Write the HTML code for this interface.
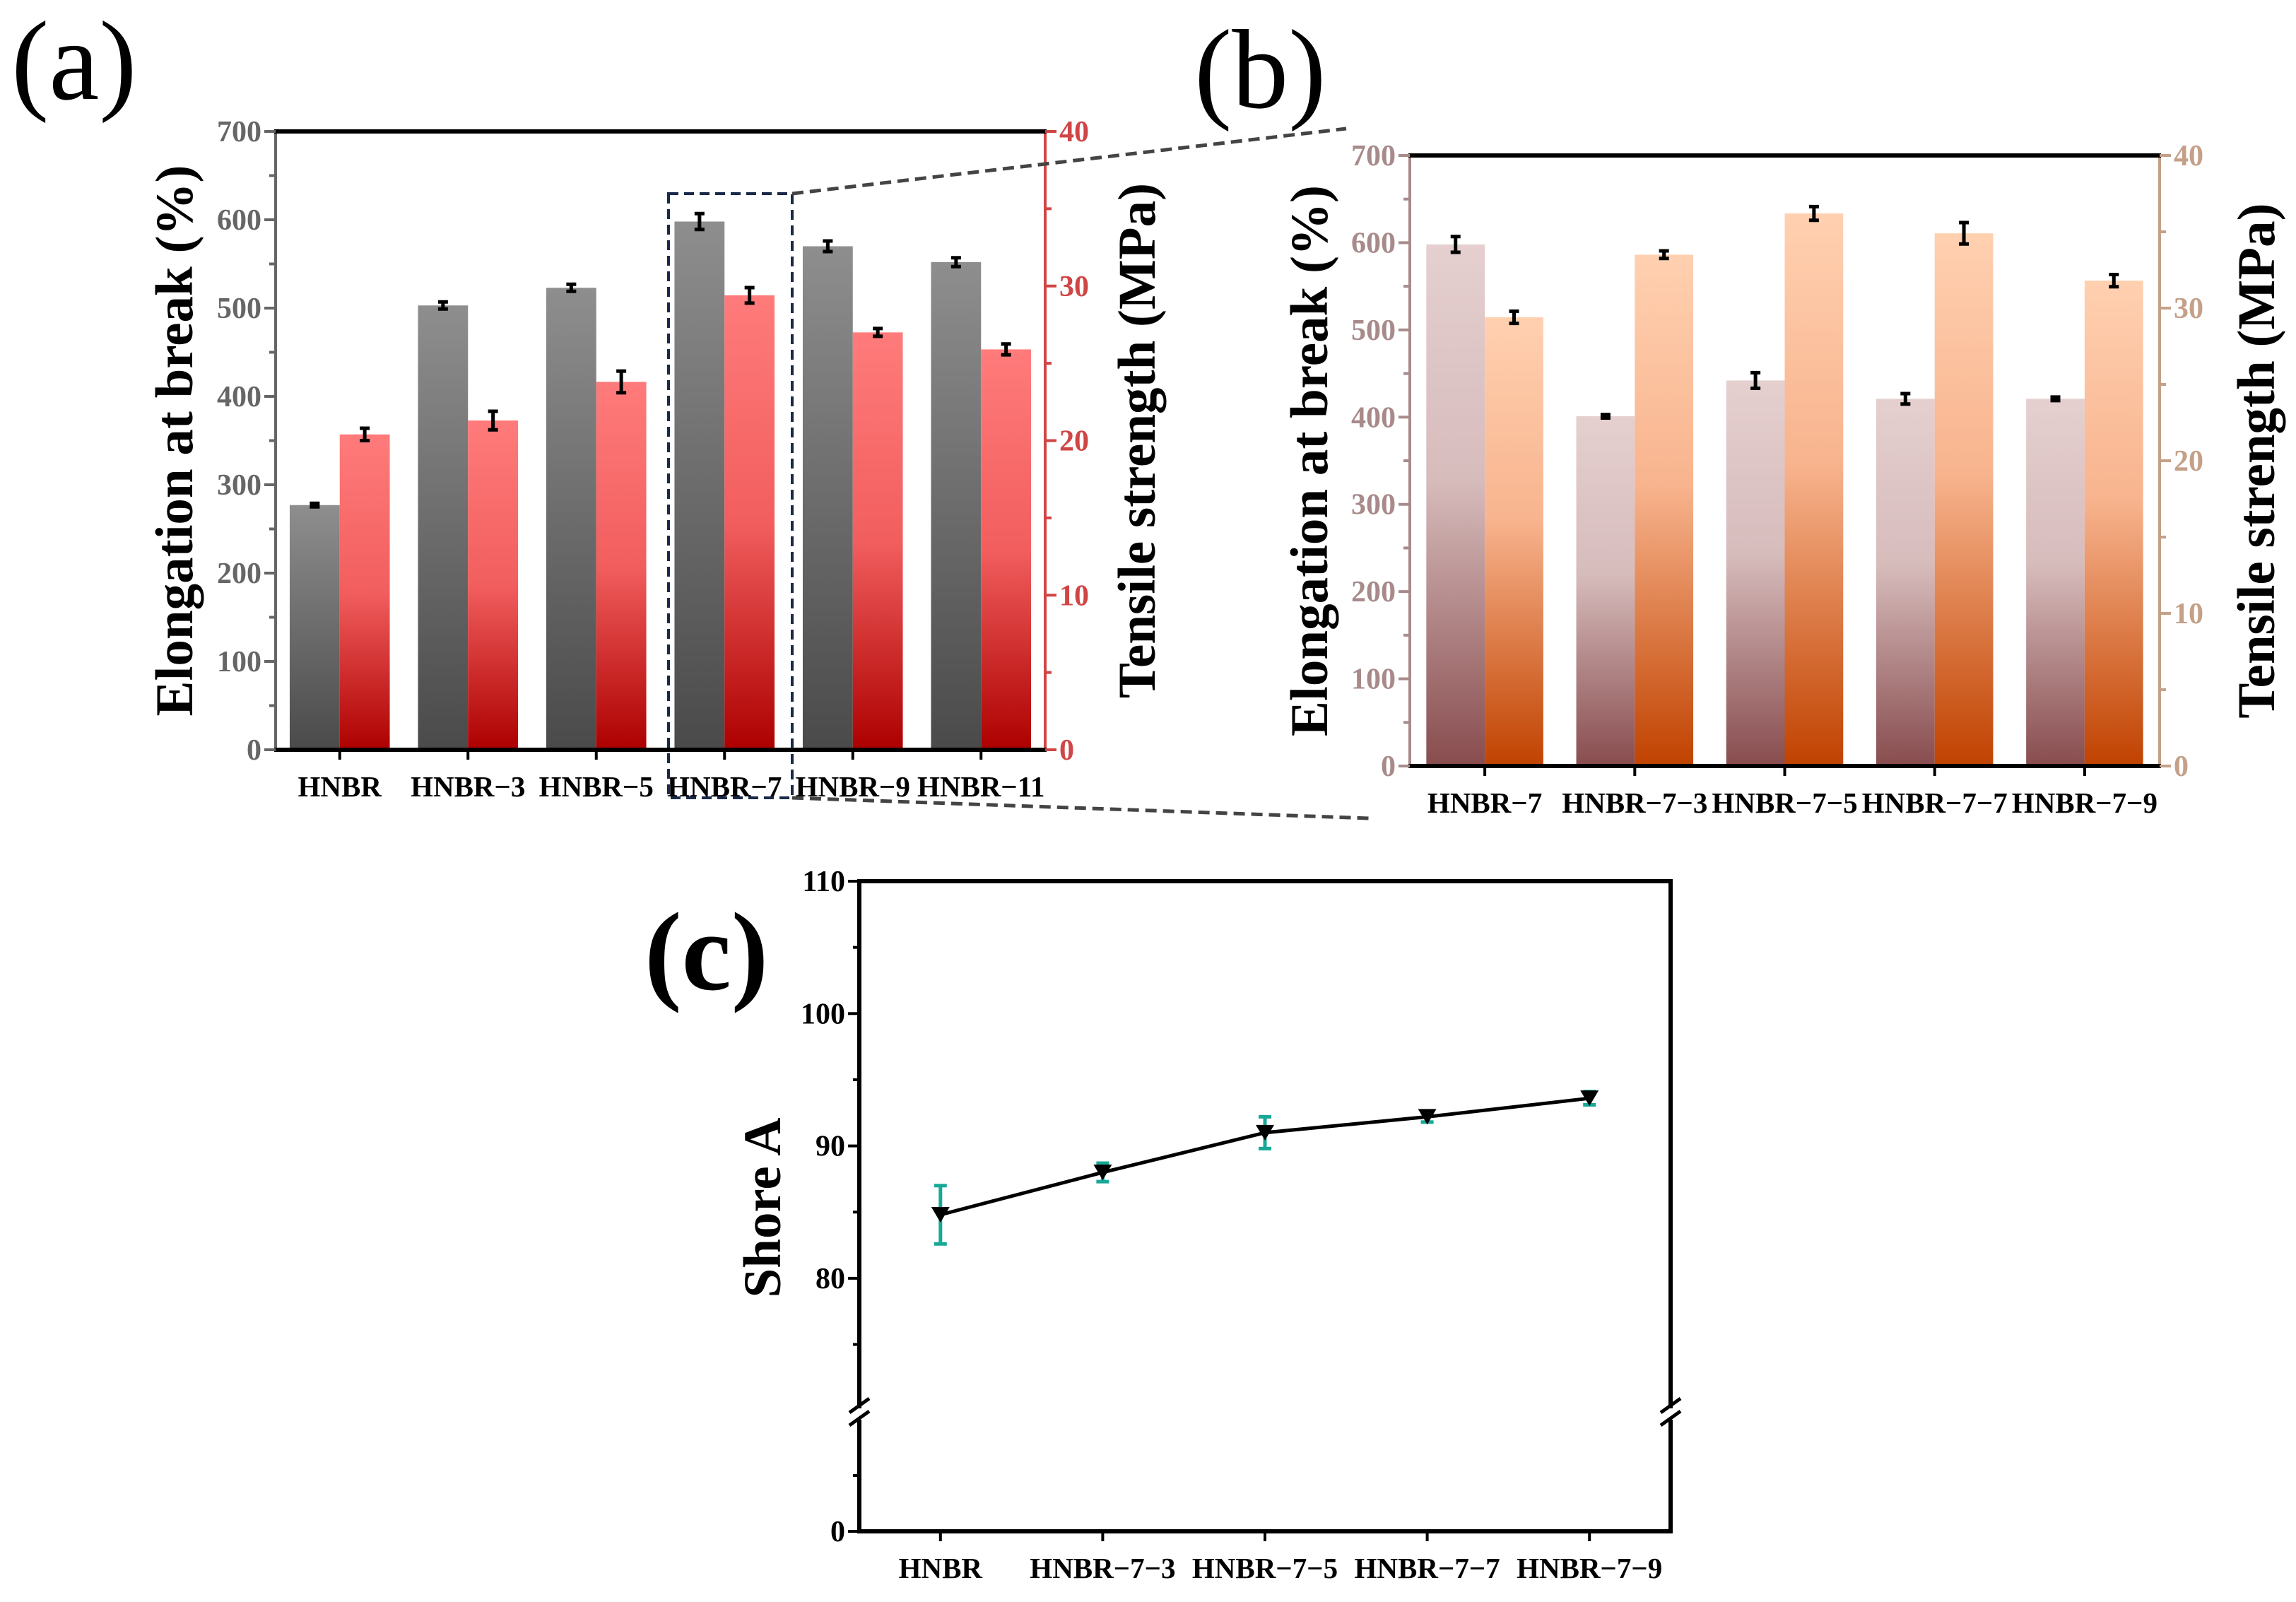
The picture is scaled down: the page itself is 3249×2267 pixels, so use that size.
<!DOCTYPE html>
<html><head><meta charset="utf-8"><style>
html,body{margin:0;padding:0;background:#fff}
svg{display:block;font-family:"Liberation Serif",serif;font-weight:bold}
</style></head><body>
<svg id="s" width="3249" height="2267" viewBox="0 0 3249 2267" xmlns="http://www.w3.org/2000/svg">
<defs>
<linearGradient id="gGray" x1="0" y1="0" x2="0" y2="1"><stop offset="0" stop-color="#8e8e8e"/><stop offset="1" stop-color="#4a4a4a"/></linearGradient>
<linearGradient id="gRed" x1="0" y1="0" x2="0" y2="1"><stop offset="0" stop-color="#ff7b7b"/><stop offset="0.5" stop-color="#f25e5e"/><stop offset="1" stop-color="#ad0000"/></linearGradient>
<linearGradient id="gMauve" x1="0" y1="0" x2="0" y2="1"><stop offset="0" stop-color="#e5cfcf"/><stop offset="0.45" stop-color="#d7bcbc"/><stop offset="1" stop-color="#884c4e"/></linearGradient>
<linearGradient id="gOrange" x1="0" y1="0" x2="0" y2="1"><stop offset="0" stop-color="#ffd0b0"/><stop offset="0.45" stop-color="#f8b48e"/><stop offset="1" stop-color="#c04200"/></linearGradient>
</defs>
<text x="16" y="140" font-size="160" font-weight="normal" fill="#000">(a)</text>
<text x="1690" y="152" font-size="160" font-weight="normal" fill="#000">(b)</text>
<text x="912" y="1400" font-size="158" fill="#000">(c)</text>
<g id="ga"></g>
<g id="gb"></g>
<g id="gc"></g>
<g id="gz"></g>
</svg>
<script>
// Panel (a) data
const catsA = ["HNBR","HNBR\u22123","HNBR\u22125","HNBR\u22127","HNBR\u22129","HNBR\u221211"];
const elongA = [277, 503, 523, 598, 570, 552];
const elongErrA = [2, 4, 4, 9, 6, 5];
const tensA = [20.4, 21.3, 23.8, 29.4, 27.0, 25.9];
const tensErrA = [0.4, 0.6, 0.7, 0.5, 0.25, 0.35];
// Panel (b) data
const catsB = ["HNBR\u22127","HNBR\u22127\u22123","HNBR\u22127\u22125","HNBR\u22127\u22127","HNBR\u22127\u22129"];
const elongB = [598, 401, 442, 421, 421];
const elongErrB = [9, 2, 9, 6, 2];
const tensB = [29.4, 33.5, 36.2, 34.9, 31.8];
const tensErrB = [0.4, 0.25, 0.45, 0.7, 0.4];
// Panel (c) data
const catsC = ["HNBR","HNBR\u22127\u22123","HNBR\u22127\u22125","HNBR\u22127\u22127","HNBR\u22127\u22129"];
const shoreC = [84.8, 88.0, 91.0, 92.2, 93.6];
const shoreErrC = [2.2, 0.7, 1.2, 0.4, 0.5];
const leftTicks = [0,100,200,300,400,500,600,700];
const rightTicks = [0,10,20,30,40];
const shoreTicksUpper = [80,90,100,110];

const NS="http://www.w3.org/2000/svg";
const TICKFS=42, CATFS=41, TTLFS=75;
function mk(p,tag,at,txt){const e=document.createElementNS(NS,tag);for(const k in at)e.setAttribute(k,at[k]);if(txt!==undefined)e.textContent=txt;p.appendChild(e);return e;}

function barPanel(g,o){
  const {L,R,T,B,cats,e,ee,t,te,fillL,fillR,colL,colR,ttlLx,ttlRx}=o;
  const yL=v=>B-(v/700)*(B-T), yR=v=>B-(v/40)*(B-T);
  const band=(R-L)/cats.length, bw=band*0.39;
  cats.forEach((c,i)=>{
    const cx=L+band*(i+0.5);
    let r=mk(g,'rect',{x:cx-bw,y:yL(e[i]),width:bw,height:B-yL(e[i]),fill:fillL});
    
    
    r=mk(g,'rect',{x:cx,y:yR(t[i]),width:bw,height:B-yR(t[i]),fill:fillR});
    
    
    [[cx-bw/2,yL(e[i]+ee[i]),yL(e[i]-ee[i])],[cx+bw/2,yR(t[i]+te[i]),yR(t[i]-te[i])]].forEach(([x,y1,y2])=>{
      const eb=mk(g,'path',{d:`M${x},${y1}V${y2}M${x-7},${y1}h14M${x-7},${y2}h14`,stroke:'#000','stroke-width':5,fill:'none'});
      
      
    });
    mk(g,'line',{x1:cx,y1:B,x2:cx,y2:B+14,stroke:'#000','stroke-width':4});
    const tl=mk(g,'text',{x:cx,y:B+66,'font-size':CATFS,'text-anchor':'middle',fill:'#000'},c);
    
    
  });
  mk(g,'line',{x1:L,y1:T,x2:L,y2:B,stroke:colL,'stroke-width':4});
  mk(g,'line',{x1:R,y1:T,x2:R,y2:B,stroke:colR,'stroke-width':4});
  mk(g,'line',{x1:L-2,y1:T,x2:R+2,y2:T,stroke:'#000','stroke-width':6});
  mk(g,'line',{x1:L-2,y1:B,x2:R+2,y2:B,stroke:'#000','stroke-width':6});
  leftTicks.forEach(v=>{const y=yL(v);mk(g,'line',{x1:L-16,y1:y,x2:L,y2:y,stroke:colL,'stroke-width':4});
    const tx=mk(g,'text',{x:L-20,y:y+14,'font-size':TICKFS,'text-anchor':'end',fill:colL},v);
    
    
    if(v<700)mk(g,'line',{x1:L-9,y1:yL(v+50),x2:L,y2:yL(v+50),stroke:colL,'stroke-width':4});});
  rightTicks.forEach(v=>{const y=yR(v);mk(g,'line',{x1:R,y1:y,x2:R+16,y2:y,stroke:colR,'stroke-width':4});
    const tx=mk(g,'text',{x:R+20,y:y+14,'font-size':TICKFS,fill:colR},v);
    
    
    if(v<40)mk(g,'line',{x1:R,y1:yR(v+5),x2:R+9,y2:yR(v+5),stroke:colR,'stroke-width':4});});
  const my=(T+B)/2;
  let a=mk(g,'text',{x:ttlLx,y:my,'font-size':TTLFS,'text-anchor':'middle',fill:'#000',transform:`rotate(-90 ${ttlLx} ${my})`},'Elongation at break (%)');
  
  
  a=mk(g,'text',{x:ttlRx,y:my,'font-size':TTLFS,'text-anchor':'middle',fill:'#000',transform:`rotate(-90 ${ttlRx} ${my})`},'Tensile strength (MPa)');
  
  
}
barPanel(document.getElementById('ga'),{L:390,R:1479,T:186,B:1061,cats:catsA,e:elongA,ee:elongErrA,t:tensA,te:tensErrA,fillL:'url(#gGray)',fillR:'url(#gRed)',colL:'#666',colR:'#d04545',ttlLx:272,ttlRx:1634});
barPanel(document.getElementById('gb'),{L:1995,R:3056,T:220,B:1084,cats:catsB,e:elongB,ee:elongErrB,t:tensB,te:tensErrB,fillL:'url(#gMauve)',fillR:'url(#gOrange)',colL:'#a88a8a',colR:'#c4a088',ttlLx:1878,ttlRx:3218});

// zoom box & connectors
const gz=document.getElementById('gz');
mk(gz,'rect',{x:946,y:274,width:175,height:855,fill:'none',stroke:'#1a2a4a','stroke-width':4,'stroke-dasharray':'14,8'});
mk(gz,'line',{x1:1121,y1:274,x2:1905,y2:182,stroke:'#444','stroke-width':5,'stroke-dasharray':'16,9'});
mk(gz,'line',{x1:1121,y1:1129,x2:1938,y2:1158,stroke:'#444','stroke-width':5,'stroke-dasharray':'16,9'});

// panel c
(function(){
  const g=document.getElementById('gc');
  const L=1216,R=2364,T=1247,B=2167,brk=2001;
  const yU=v=>T+(110-v)*18.73;
  const band=(R-L)/catsC.length;
  const xC=i=>L+band*(i+0.5);
  mk(g,'rect',{x:L,y:T,width:R-L,height:B-T,fill:'none',stroke:'#000','stroke-width':6});
  mk(g,'rect',{x:L-12,y:brk-8,width:24,height:16,fill:'#fff'});
  mk(g,'rect',{x:R-12,y:brk-8,width:24,height:16,fill:'#fff'});
  [L,R].forEach(x=>{mk(g,'path',{d:`M${x-14},${brk-2}l28,-20M${x-14},${brk+16}l28,-20`,stroke:'#000','stroke-width':5});});
  shoreTicksUpper.forEach(v=>{const y=yU(v);mk(g,'line',{x1:L-16,y1:y,x2:L,y2:y,stroke:'#000','stroke-width':4});
    const tx=mk(g,'text',{x:L-20,y:y+14,'font-size':TICKFS,'text-anchor':'end',fill:'#000'},v);
    
    
    mk(g,'line',{x1:L-9,y1:yU(v-5),x2:L,y2:yU(v-5),stroke:'#000','stroke-width':4});});
  mk(g,'line',{x1:L-16,y1:B,x2:L,y2:B,stroke:'#000','stroke-width':4});
  mk(g,'line',{x1:L-9,y1:(B+brk)/2+4,x2:L,y2:(B+brk)/2+4,stroke:'#000','stroke-width':4});
  let z=mk(g,'text',{x:L-20,y:B+14,'font-size':TICKFS,'text-anchor':'end',fill:'#000'},'0');
  
  
  const pts=shoreC.map((v,i)=>xC(i)+','+yU(v)).join(' ');
  const ln=mk(g,'polyline',{points:pts,fill:'none',stroke:'#000','stroke-width':5});
  
  
  catsC.forEach((c,i)=>{
    const x=xC(i),y=yU(shoreC[i]),y1=yU(shoreC[i]+shoreErrC[i]),y2=yU(shoreC[i]-shoreErrC[i]);
    const eb=mk(g,'path',{d:`M${x},${y1}V${y2}M${x-9},${y1}h18M${x-9},${y2}h18`,stroke:'#17a898','stroke-width':5,fill:'none'});
    
    
    const m=mk(g,'path',{d:`M${x-13},${y-11}h26l-13,22z`,fill:'#000'});
    
    
    mk(g,'line',{x1:x,y1:B,x2:x,y2:B+14,stroke:'#000','stroke-width':4});
    const tl=mk(g,'text',{x:x,y:B+66,'font-size':CATFS,'text-anchor':'middle',fill:'#000'},c);
    
    
  });
  const my=1709;
  const t=mk(g,'text',{x:1104,y:my,'font-size':TTLFS,'text-anchor':'middle',fill:'#000',transform:`rotate(-90 1104 ${my})`},'Shore A');
  
  
})();
</script>
</body></html>
